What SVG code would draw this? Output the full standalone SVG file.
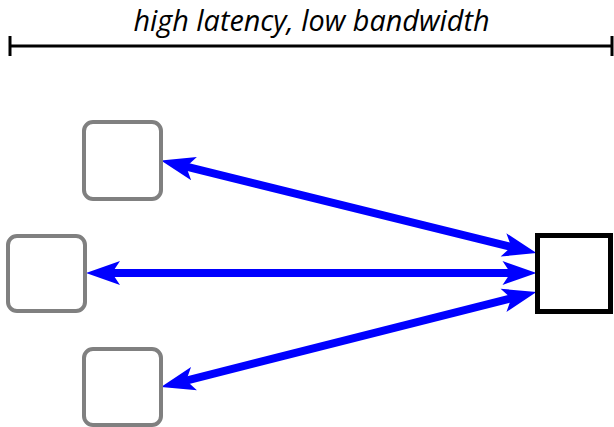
<svg xmlns="http://www.w3.org/2000/svg" width="614" height="427" viewBox="0 0 614 427">
<style>
.gbox{fill:#ffffff;stroke:#808080;stroke-width:4}
.bbox{fill:#ffffff;stroke:#000000;stroke-width:5}
.conn{stroke:#0000ff;stroke-width:8;fill:none}
.scale{stroke:#000000;stroke-width:3;fill:none}
.title{font-family:"Open Sans",sans-serif;font-style:italic;font-size:28.8px;fill:#000000}
</style>
<defs>
<marker id="ah" markerUnits="userSpaceOnUse" markerWidth="36" markerHeight="26" viewBox="0 0 36 26" refX="11" refY="13" orient="auto-start-reverse">
<path d="M1,1 L35,13 L1,25 L9,13 Z" fill="#0000ff"/>
</marker>
</defs>
<g id="scale">
<line class="scale" x1="10" y1="46" x2="612" y2="46"/>
<line class="scale" x1="10" y1="36" x2="10" y2="56"/>
<line class="scale" x1="612" y1="36" x2="612" y2="56"/>
<text class="title" x="311.5" y="30.5" text-anchor="middle">high latency, low bandwidth</text>
</g>
<g id="connectors">
<line class="conn" x1="184.3" y1="166.2" x2="513.2" y2="247.3" marker-start="url(#ah)" marker-end="url(#ah)"/>
<line class="conn" x1="110" y1="273" x2="512.5" y2="273" marker-start="url(#ah)" marker-end="url(#ah)"/>
<line class="conn" x1="184.3" y1="381.1" x2="513.2" y2="297.9" marker-start="url(#ah)" marker-end="url(#ah)"/>
</g>
<g id="node-top"><rect class="gbox" x="84" y="122" width="77" height="77" rx="9"/></g>
<g id="node-mid"><rect class="gbox" x="8" y="236" width="77" height="75" rx="9"/></g>
<g id="node-bottom"><rect class="gbox" x="84" y="349" width="77" height="76" rx="9"/></g>
<g id="node-right"><rect class="bbox" x="537.5" y="235.5" width="73" height="76"/></g>
</svg>
